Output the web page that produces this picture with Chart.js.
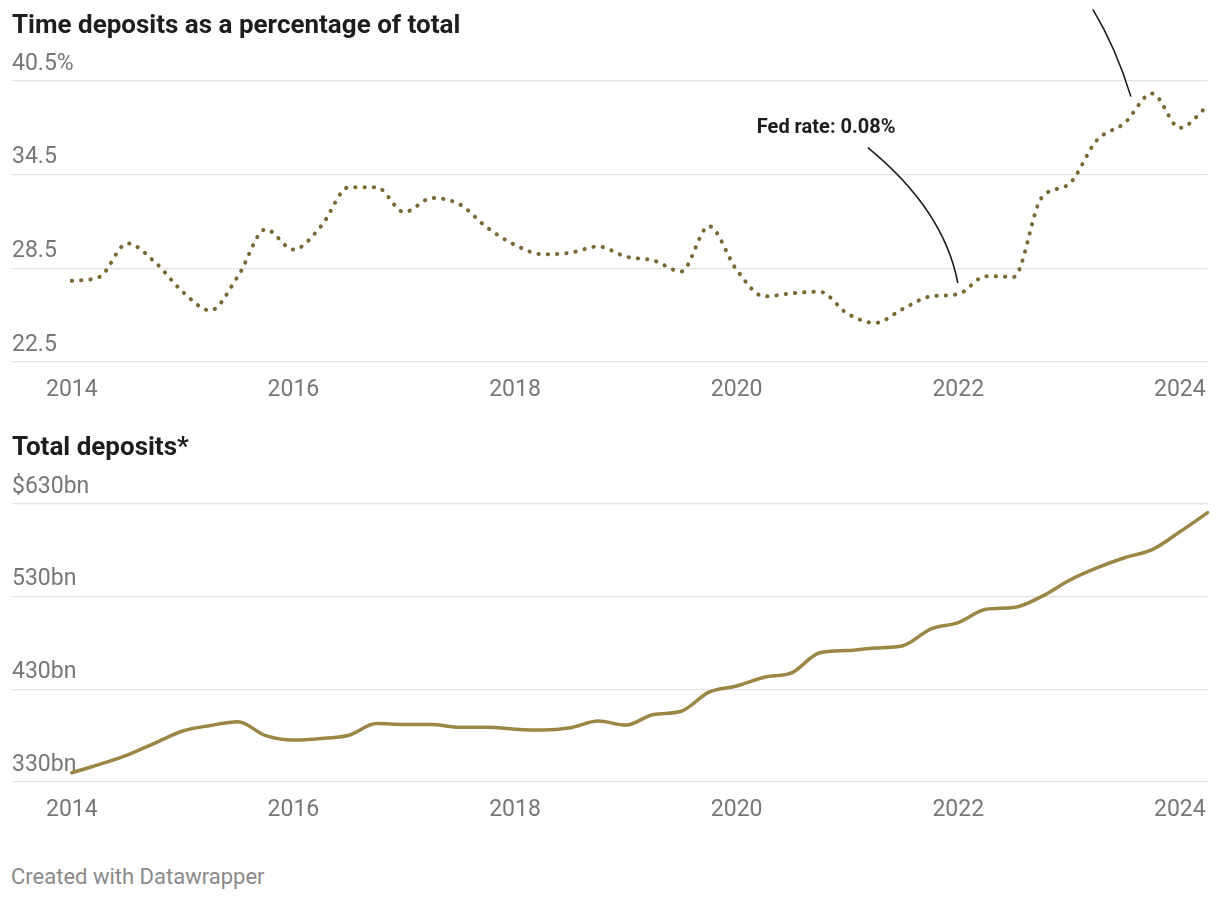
<!DOCTYPE html>
<html>
<head>
<meta charset="utf-8">
<title>Time deposits</title>
<script src="https://cdn.jsdelivr.net/npm/chart.js@4.4.1/dist/chart.umd.min.js"></script>
<style>
  body { margin: 0; background: #fff; font-family: Roboto, sans-serif; }
  #page { position: relative; width: 1220px; height: 900px; overflow: hidden; }
  .chart-box { position: absolute; left: 0; width: 1220px; height: 410px; }
  .title {
    position: absolute; left: 12px; z-index: 2; white-space: nowrap;
    font-weight: 700; font-size: 26px; line-height: 26px; color: #1d1d1d;
  }
  .footer {
    position: absolute; left: 11px; top: 866px; z-index: 2;
    font-size: 22px; line-height: 22px; color: #8a8a8a;
  }
</style>
</head>
<body>
<div id="page">
  <div class="title" style="top:11px;">Time deposits as a percentage of total</div>
  <div class="chart-box" style="top:0;"><canvas id="share-chart" width="1220" height="410"></canvas></div>

  <div class="title" style="top:433px;">Total deposits*</div>
  <div class="chart-box" style="top:420px;"><canvas id="total-chart" width="1220" height="410"></canvas></div>

  <div class="footer">Created with Datawrapper</div>
</div>

<script>
// ===========================
// Data (quarterly)
// ===========================

const quarters = [
  2014.00, 2014.25, 2014.50, 2014.75,
  2015.00, 2015.25, 2015.50, 2015.75,
  2016.00, 2016.25, 2016.50, 2016.75,
  2017.00, 2017.25, 2017.50, 2017.75,
  2018.00, 2018.25, 2018.50, 2018.75,
  2019.00, 2019.25, 2019.50, 2019.75,
  2020.00, 2020.25, 2020.50, 2020.75,
  2021.00, 2021.25, 2021.50, 2021.75,
  2022.00, 2022.25, 2022.50, 2022.75,
  2023.00, 2023.25, 2023.50, 2023.75,
  2024.00, 2024.25
];

// time deposits, % of total
const timeShare = [
  27.7, 27.95, 30.1, 28.9,
  27.0, 25.8, 28.0, 31.0,
  29.7, 31.2, 33.7, 33.7,
  32.1, 33.0, 32.6, 31.1,
  30.0, 29.4, 29.5, 29.9,
  29.25, 29.0, 28.3, 31.2,
  28.4, 26.7, 26.9, 27.0,
  25.6, 25.0, 25.9, 26.7,
  26.85, 28.0, 27.95, 33.0,
  33.9, 36.7, 37.8, 39.7,
  37.5, 38.9
];

// total deposits, $bn
const totalDeposits = [
  340, 349, 359, 372,
  385, 391, 395, 380,
  375.3, 377, 380.5, 393,
  392, 392, 389, 389,
  387, 386, 388.6, 395.7,
  391.4, 402.8, 406.4, 427,
  433.6, 443, 448, 469.5,
  471.8, 474.6, 477, 495,
  502, 516.4, 518.2, 530,
  547.5, 561, 572, 580.7,
  600, 620.7
];

const yearTicks = [2014, 2016, 2018, 2020, 2022, 2024];

const shareTicks = [22.5, 28.5, 34.5, 40.5];
const shareTickLabels = ['22.5', '28.5', '34.5', '40.5%'];

const totalTicks = [330, 430, 530, 630];
const totalTickLabels = ['330bn', '430bn', '530bn', '$630bn'];

// ===========================
// Styling
// ===========================

const FONT = 'Roboto';
const TICK_COLOR = '#777777';
const GRID_COLOR = '#e2e2e2';
const DOT_COLOR = '#7a6833';
const LINE_COLOR = '#9a8745';

Chart.defaults.font.family = FONT;

// annotations for the top chart, in data coordinates
const fedNotes = [
  { text: 'Fed rate: 0.08%', tx: 2020.182, ty: 37.16,
    from: [2021.184, 36.23], ctrl: [2021.87, 32.25], to: [2021.996, 27.56] },
  { text: null,
    from: [2023.215, 45.09], ctrl: [2023.422, 42.65], to: [2023.558, 39.5] }
];

const annotationPlugin = {
  id: 'fedNotes',
  afterDatasetsDraw(chart) {
    const { ctx, scales: { x, y } } = chart;
    ctx.save();
    ctx.strokeStyle = '#1d1d1d';
    ctx.lineWidth = 1.6;
    fedNotes.forEach(n => {
      ctx.beginPath();
      ctx.moveTo(x.getPixelForValue(n.from[0]), y.getPixelForValue(n.from[1]));
      ctx.quadraticCurveTo(
        x.getPixelForValue(n.ctrl[0]), y.getPixelForValue(n.ctrl[1]),
        x.getPixelForValue(n.to[0]), y.getPixelForValue(n.to[1])
      );
      ctx.stroke();
      if (n.text) {
        ctx.fillStyle = '#1d1d1d';
        ctx.font = '700 20px ' + FONT;
        ctx.textAlign = 'left';
        ctx.textBaseline = 'alphabetic';
        ctx.fillText(n.text, x.getPixelForValue(n.tx), y.getPixelForValue(n.ty));
      }
    });
    ctx.restore();
  }
};

function buildOptions(cfg) {
  return {
    responsive: false,
    animation: false,
    events: [],
    layout: { padding: { top: cfg.padTop, left: 12, right: 12, bottom: 0 } },
    plugins: { legend: { display: false }, tooltip: { enabled: false } },
    scales: {
      x: {
        type: 'linear',
        min: 2013.46,
        max: 2024.25,
        afterBuildTicks: axis => { axis.ticks = yearTicks.map(v => ({ value: v })); },
        afterFit: axis => { axis.height = 48; },
        border: { display: false },
        grid: { display: false, drawTicks: false },
        ticks: {
          color: TICK_COLOR,
          font: { size: 23 },
          padding: 14,
          maxRotation: 0,
          autoSkip: false,
          callback: v => String(v)
        }
      },
      y: {
        min: cfg.min,
        max: cfg.max,
        afterBuildTicks: axis => { axis.ticks = cfg.ticks.map(v => ({ value: v })); },
        afterFit: axis => { axis.width = 0; },
        border: { display: false },
        grid: { color: GRID_COLOR, lineWidth: 1.3, drawTicks: false },
        ticks: {
          mirror: true,
          padding: 0,
          labelOffset: -17,
          color: TICK_COLOR,
          font: { size: 23 },
          callback: (v, i) => cfg.labels[i]
        }
      }
    }
  };
}

function toPoints(values) {
  return quarters.map((q, i) => ({ x: q, y: values[i] }));
}

// ===========================
// Charts
// ===========================

new Chart(document.getElementById('share-chart'), {
  type: 'line',
  data: {
    datasets: [{
      data: toPoints(timeShare),
      borderColor: DOT_COLOR,
      borderWidth: 4,
      borderDash: [0.3, 9],
      borderCapStyle: 'round',
      pointRadius: 0,
      cubicInterpolationMode: 'monotone',
      clip: 10
    }]
  },
  options: buildOptions({ padTop: 81, min: 22.5, max: 40.5, ticks: shareTicks, labels: shareTickLabels }),
  plugins: [annotationPlugin]
});

new Chart(document.getElementById('total-chart'), {
  type: 'line',
  data: {
    datasets: [{
      data: toPoints(totalDeposits),
      borderColor: LINE_COLOR,
      borderWidth: 3.5,
      borderCapStyle: 'round',
      pointRadius: 0,
      cubicInterpolationMode: 'monotone',
      clip: 10
    }]
  },
  options: buildOptions({ padTop: 84, min: 330, max: 630, ticks: totalTicks, labels: totalTickLabels })
});
</script>
</body>
</html>
